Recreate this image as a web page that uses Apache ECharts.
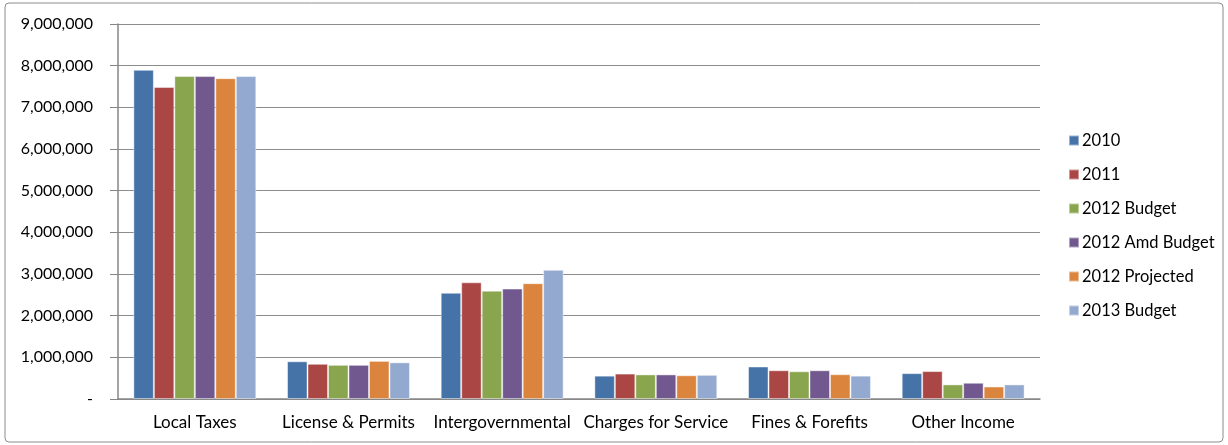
<!DOCTYPE html>
<html lang="en">
<head>
  <meta charset="UTF-8">
  <title>Revenue by source</title>
  <style>
    * { margin: 0; padding: 0; }
    body { background: #fff; }
  </style>
  <script src="https://cdn.jsdelivr.net/npm/echarts@6/dist/echarts.min.js"></script>
</head>
<body>
  <div id="chart" style="width: 1228px; height: 445px;"></div>
  <script>
    const chart = echarts.init(document.getElementById('chart'))

    // categories and series
    const categories = ['Local Taxes', 'License & Permits', 'Intergovernmental', 'Charges for Service', 'Fines & Forefits', 'Other Income']
    const seriesNames = ['2010', '2011', '2012 Budget', '2012 Amd Budget', '2012 Projected', '2013 Budget']
    const colors = ['#4572A7', '#AA4643', '#89A54E', '#71588F', '#DB843D', '#93A9CF']

    const v2010 = [7900000, 905000, 2550000, 560000, 780000, 620000]
    const v2011 = [7490000, 845000, 2800000, 610000, 690000, 670000]
    const v2012Budget = [7750000, 820000, 2600000, 590000, 665000, 350000]
    const v2012Amd = [7750000, 820000, 2650000, 590000, 690000, 390000]
    const v2012Proj = [7700000, 915000, 2780000, 570000, 595000, 300000]
    const v2013Budget = [7750000, 880000, 3100000, 580000, 560000, 350000]
    const values = [v2010, v2011, v2012Budget, v2012Amd, v2012Proj, v2013Budget]

    const font = 'Lato'
    const grey = '#868686'

    const option = {
      backgroundColor: '#fff',
      animation: false,
      color: colors,
      textStyle: { fontFamily: font },
      graphic: [{
        type: 'rect',
        shape: { x: 5, y: 3, width: 1218, height: 439, r: 4 },
        style: { fill: 'none', stroke: '#8c8c8c', lineWidth: 1 }
      }],
      grid: { left: 118, right: 188, top: 24, bottom: 46 },
      legend: {
        orient: 'vertical',
        left: 1063,
        top: 127,
        itemWidth: 10,
        itemHeight: 10,
        itemGap: 17,
        icon: 'rect',
        textStyle: { fontFamily: font, fontSize: 16.5, color: '#000', padding: [0, 0, 0, -2] },
        data: seriesNames
      },
      xAxis: {
        type: 'category',
        data: categories,
        axisLine: { lineStyle: { color: grey, width: 1.5 } },
        axisTick: { length: 5, lineStyle: { color: grey } },
        axisLabel: { color: '#000', fontSize: 17, fontFamily: font, margin: 15, interval: 0 }
      },
      yAxis: {
        type: 'value',
        min: 0,
        max: 9000000,
        interval: 1000000,
        axisLine: { show: true, lineStyle: { color: grey, width: 1.5 } },
        axisTick: { show: true, length: 8, lineStyle: { color: grey } },
        splitLine: { lineStyle: { color: '#8c8c8c' } },
        axisLabel: {
          color: '#000',
          fontSize: 16,
          fontFamily: font,
          margin: 25,
          formatter: v => v === 0 ? '-' : v.toLocaleString('en-US')
        }
      },
      series: seriesNames.map((name, i) => ({
        name,
        type: 'bar',
        data: values[i],
        barGap: 0,
        barCategoryGap: '20%',
        itemStyle: { borderColor: 'rgba(255,255,255,0.45)', borderWidth: 1 }
      }))
    }

    chart.setOption(option)
  </script>
</body>
</html>
